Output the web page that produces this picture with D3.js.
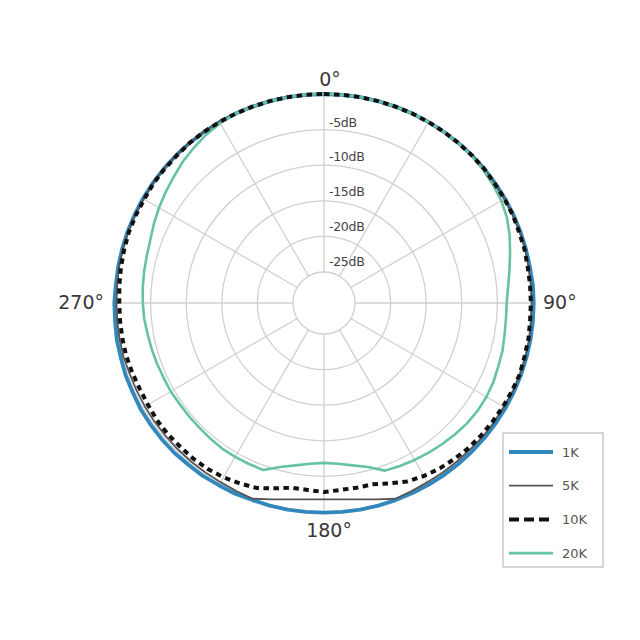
<!DOCTYPE html>
<html>
<head>
<meta charset="utf-8">
<script src="https://cdn.jsdelivr.net/npm/d3@7"></script>
<style>
  html, body { margin: 0; padding: 0; background: #ffffff; }
  svg { display: block; }
</style>
</head>
<body>
<svg id="chart" width="640" height="640"></svg>
<script>
// ---- data: angles in degrees (0 = front, clockwise), levels in dB ----
const angles = d3.range(0, 360, 5);
const series1K = [
  0,0,0,0,0,0,0,0,0,0,0,0,0,0,0,0,0,0.1,
  0.1,0.1,0.1,0.1,0.1,0.1,0.1,0.1,0.1,0.1,0.1,0.1,0.1,0.1,0.1,0.1,0.1,0.1,
  0.1,0.1,0.1,0.1,0.1,0.2,0.2,0.3,0.3,0.4,0.4,0.4,0.4,0.3,0.3,0.2,0.2,0.1,
  0.1,0,0,0,0,0,0,0,0,0,0,0,0,0,0,0,0,0];
const series5K = [
  0,0,0,0,0,0,0,0,0,0,0,-0.1,-0.1,-0.1,-0.1,-0.1,-0.2,-0.2,
  -0.2,-0.2,-0.1,-0.1,-0.1,-0.1,-0.2,-0.2,-0.2,-0.3,-0.3,-0.3,-0.3,-0.2,-0.1,-0.8,-1.35,-1.67,
  -1.77,-1.67,-1.35,-0.8,-0.1,-0.2,-0.3,-0.3,-0.3,-0.3,-0.3,-0.3,-0.3,-0.3,-0.3,-0.2,-0.2,-0.2,
  -0.2,-0.2,-0.1,-0.1,-0.1,-0.1,-0.1,0,0,0,0,0,0,0,0,0,0,0];
const series10K = [
  0,0,0,0,0,0,0,0,0,0,0,-0.1,-0.1,-0.1,-0.2,-0.2,-0.3,-0.3,
  -0.3,-0.3,-0.2,-0.2,-0.1,-0.2,-0.3,-0.4,-0.5,-0.6,-0.8,-1.0,-1.3,-1.7,-2.4,-3.0,-3.0,-3.0,
  -2.8,-3.0,-3.0,-2.4,-1.7,-1.4,-1.1,-0.9,-0.8,-0.8,-0.7,-0.7,-0.8,-0.8,-0.7,-0.6,-0.6,-0.6,
  -0.6,-0.5,-0.4,-0.3,-0.2,-0.2,-0.2,-0.1,-0.1,-0.1,0,0,0,0,0,0,0,0];
const series20K = [
  0,0,0,0,0,0,0,0,0,-0.1,-0.2,-0.4,-0.6,-1.0,-1.6,-2.3,-2.9,-3.4,
  -3.7,-3.7,-3.6,-3.4,-3.3,-3.1,-3.0,-3.0,-3.1,-3.3,-3.5,-3.7,-3.9,-4.1,-4.3,-5.5,-6.2,-6.7,
  -6.9,-6.7,-6.2,-5.5,-4.4,-4.4,-4.4,-4.4,-4.5,-4.6,-4.6,-4.6,-4.5,-4.5,-4.4,-4.3,-4.2,-4.0,
  -3.9,-3.8,-3.7,-3.6,-3.4,-3.0,-2.6,-2.2,-1.8,-1.3,-0.9,-0.5,-0.2,0,0,0,0,0];
const seriesNames = ["1K","5K","10K","20K"];
const dbTicks = [-5,-10,-15,-20,-25];
const dbTickLabels = ["-5dB","-10dB","-15dB","-20dB","-25dB"];
const angleTicks = [0,90,180,270];
const angleTickLabels = ["0°","90°","180°","270°"];
const spokeAngles = [0,30,60,90,120,150,180,210,240,270,300,330];

// ---- layout ----
const cx = 324, cy = 303;
const svg = d3.select("#chart");
const r = d3.scaleLinear().domain([-25, 0]).range([31, 209]);
const rad = d => d * Math.PI / 180;
const font = "DejaVu Sans, sans-serif";

const g = svg.append("g").attr("transform", `translate(${cx},${cy})`);

// grid rings
const gridColor = "#d0d0d0";
g.selectAll("circle.ring").data([0, ...dbTicks]).enter().append("circle")
  .attr("class", "ring").attr("r", d => r(d))
  .attr("fill", "none").attr("stroke", gridColor).attr("stroke-width", 1.3);

// spokes
g.selectAll("line.spoke").data(spokeAngles).enter().append("line")
  .attr("x1", d => r(-25) * Math.sin(rad(d))).attr("y1", d => -r(-25) * Math.cos(rad(d)))
  .attr("x2", d => r(0) * Math.sin(rad(d))).attr("y2", d => -r(0) * Math.cos(rad(d)))
  .attr("stroke", gridColor).attr("stroke-width", 1.3);

// radial labels
g.selectAll("text.db").data(dbTicks).enter().append("text")
  .attr("x", 5).attr("y", d => -(0.976 * r(d) + 11.7))
  .attr("dominant-baseline", "central")
  .attr("font-family", font).attr("font-size", 12.5)
  .attr("fill", "#444").attr("letter-spacing", -0.3)
  .text((d, i) => dbTickLabels[i]);

// curves
const colors = ["#3288bd", "#555555", "#111111", "#66c2a5"];
const widths = [3.8, 1.8, 4, 2.6];
const dashes = [null, null, "5.5,4.5", null];
const allSeries = [series1K, series5K, series10K, series20K];
const drawOrder = [0, 1, 3, 2];
const line = d3.lineRadial()
  .angle((d, i) => rad(angles[i]))
  .radius(d => r(d))
  .curve(d3.curveLinearClosed);

drawOrder.forEach(k => {
  g.append("path").datum(allSeries[k])
    .attr("d", line)
    .attr("fill", "none")
    .attr("stroke", colors[k])
    .attr("stroke-width", widths[k])
    .attr("stroke-dasharray", dashes[k])
    .attr("stroke-linejoin", "round");
});

// angle labels
angleTicks.forEach((a, i) => {
  const t = g.append("text")
    .attr("font-family", font).attr("font-size", 19)
    .attr("fill", "#383838").text(angleTickLabels[i]);
  if (a === 0) t.attr("x", 6).attr("y", -217).attr("text-anchor", "middle");
  else if (a === 180) t.attr("x", 5).attr("y", 234).attr("text-anchor", "middle");
  else if (a === 90) t.attr("x", 219).attr("y", 6).attr("text-anchor", "start");
  else t.attr("x", -220).attr("y", 6).attr("text-anchor", "end");
});

// legend
const lg = svg.append("g").attr("transform", "translate(503,433)");
lg.append("rect").attr("width", 100).attr("height", 134)
  .attr("fill", "#fff").attr("stroke", "#bbb").attr("stroke-width", 1.2);
seriesNames.forEach((name, k) => {
  const y = 19 + k * 33.7;
  lg.append("line").attr("x1", 6).attr("x2", 50).attr("y1", y).attr("y2", y)
    .attr("stroke", colors[k]).attr("stroke-width", widths[k])
    .attr("stroke-dasharray", k === 2 ? "10,5" : null);
  lg.append("text").attr("x", 59).attr("y", y + 4.5)
    .attr("font-family", font).attr("font-size", 13)
    .attr("fill", "#555").text(name);
});
</script>
</body>
</html>
